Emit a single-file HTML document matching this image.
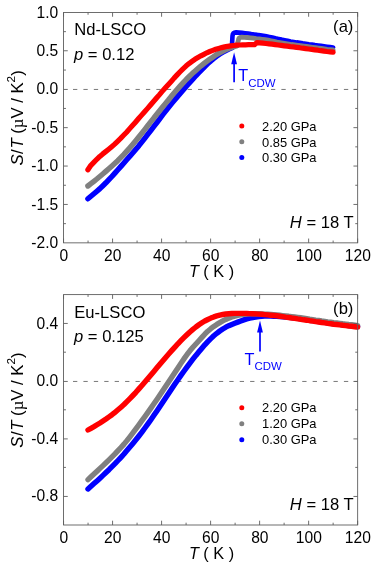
<!DOCTYPE html>
<html><head><meta charset="utf-8"><title>fig</title>
<style>html,body{margin:0;padding:0;background:#fff;}svg{display:block;}text{font-family:"Liberation Sans",sans-serif;fill:#000;}.i{font-style:italic;}.sy{font-family:"Liberation Serif",serif;}</style>
</head><body><div style="will-change:transform;width:374px;height:567px;">
<svg width="374" height="567" viewBox="0 0 374 567">
<line x1="73.00" y1="89.45" x2="357.65" y2="89.45" stroke="#606060" stroke-width="0.85" stroke-dasharray="4.3 6.12"/>
<g>
<path d="M87.9,198.8 L90.9,196.3 L93.9,193.8 L96.9,191.2 L99.9,188.6 L102.9,185.7 L105.9,182.8 L108.9,179.7 L111.9,176.5 L114.9,173.1 L117.9,169.8 L120.9,166.4 L123.9,162.9 L126.9,159.5 L129.9,156.1 L132.9,152.7 L135.9,149.2 L138.9,145.7 L141.9,141.9 L144.9,138.1 L147.9,134.2 L150.9,130.3 L153.9,126.4 L156.9,122.5 L159.9,118.6 L162.8,114.7 L165.8,110.9 L168.8,107.1 L171.8,103.4 L174.8,99.8 L177.8,96.2 L180.8,92.7 L183.8,89.2 L186.8,85.8 L189.8,82.4 L192.8,79.1 L195.8,75.8 L198.8,72.7 L201.8,69.6 L204.8,66.5 L207.8,63.6 L210.8,60.9 L213.8,58.4 L216.8,56.1 L219.8,54.0 L222.8,52.2 L225.8,50.6 L228.8,49.1 L231.8,47.8" fill="none" stroke="#0000ff" stroke-width="5.40" stroke-linecap="round" stroke-linejoin="round"/>
<path d="M231.80,47.80 L232.50,35.80 Q232.75,32.50 236.00,32.40 L236.0,32.4 L239.0,32.6 L242.1,32.9 L245.1,33.2 L248.1,33.6 L251.2,34.1 L254.2,34.5 L257.2,34.9 L260.3,35.2 L263.3,35.7 L266.4,36.3 L269.4,36.9 L272.4,37.6 L275.5,38.3 L278.5,38.9 L281.5,39.6 L284.6,40.2 L287.6,40.8 L290.6,41.4 L293.7,41.9 L296.7,42.4 L299.7,42.8 L302.8,43.3 L305.8,43.7 L308.9,44.2 L311.9,44.6 L314.9,45.1 L318.0,45.5 L321.0,45.9 L324.0,46.3 L327.1,46.7 L330.1,47.1 L333.1,47.5" fill="none" stroke="#0000ff" stroke-width="4.60" stroke-linecap="round" stroke-linejoin="round"/>
<path d="M87.9,186.0 L90.9,183.7 L93.9,181.3 L96.8,179.0 L99.8,176.5 L102.8,174.0 L105.8,171.4 L108.8,168.8 L111.7,166.2 L114.7,163.5 L117.7,160.7 L120.7,157.7 L123.7,154.6 L126.6,151.4 L129.6,148.0 L132.6,144.6 L135.6,141.0 L138.6,137.3 L141.5,133.6 L144.5,129.8 L147.5,126.0 L150.5,122.2 L153.5,118.5 L156.4,114.7 L159.4,111.0 L162.4,107.3 L165.4,103.6 L168.4,100.0 L171.3,96.3 L174.3,92.8 L177.3,89.3 L180.3,85.9 L183.3,82.6 L186.2,79.5 L189.2,76.5 L192.2,73.6 L195.2,70.9 L198.2,68.3 L201.1,65.8 L204.1,63.4 L207.1,61.1 L210.1,58.9 L213.1,56.9 L216.0,54.9 L219.0,53.2 L222.0,51.6 L225.0,50.1 L228.0,48.8 L230.9,47.7 L233.9,46.7 L236.9,45.7" fill="none" stroke="#808080" stroke-width="5.40" stroke-linecap="round" stroke-linejoin="round"/>
<path d="M236.90,45.70 L238.30,40.60 Q238.55,37.30 241.50,37.20 L241.5,37.2 L244.5,37.3 L247.4,37.5 L250.4,37.8 L253.3,38.2 L256.3,38.6 L259.2,38.9 L262.2,39.3 L265.1,39.7 L268.1,40.2 L271.1,40.8 L274.0,41.4 L277.0,42.0 L279.9,42.5 L282.9,43.0 L285.8,43.5 L288.8,44.0 L291.8,44.5 L294.7,44.9 L297.7,45.3 L300.6,45.7 L303.6,46.1 L306.5,46.5 L309.5,46.9 L312.4,47.3 L315.4,47.7 L318.4,48.1 L321.3,48.5 L324.3,48.9 L327.2,49.3 L330.2,49.6 L333.1,49.9" fill="none" stroke="#808080" stroke-width="4.80" stroke-linecap="round" stroke-linejoin="round"/>
<path d="M87.9,169.8 L90.9,165.3 L93.8,162.4 L96.8,159.3 L99.8,156.4 L102.8,153.9 L105.7,151.6 L108.7,149.2 L111.7,146.7 L114.7,144.1 L117.6,141.3 L120.6,138.4 L123.6,135.3 L126.6,132.2 L129.5,128.9 L132.5,125.6 L135.5,122.2 L138.4,118.8 L141.4,115.4 L144.4,112.0 L147.4,108.6 L150.3,105.2 L153.3,101.8 L156.3,98.3 L159.3,94.9 L162.2,91.4 L165.2,88.0 L168.2,84.7 L171.2,81.4 L174.1,78.1 L177.1,74.9 L180.1,71.8 L183.0,68.9 L186.0,66.1 L189.0,63.6 L192.0,61.4 L194.9,59.3 L197.9,57.5 L200.9,55.8 L203.9,54.3 L206.8,52.8 L209.8,51.5 L212.8,50.4 L215.7,49.3 L218.7,48.4 L221.7,47.6 L224.7,46.9 L227.6,46.3 L230.6,45.9 L233.6,45.5 L236.6,45.2 L239.5,45.0 L242.5,44.9 L245.5,44.8 L248.5,44.7 L251.4,44.7 L254.4,44.7 L256.8,42.7 L259.9,42.9 L262.9,43.2 L266.0,43.5 L269.0,43.8 L272.1,44.2 L275.1,44.6 L278.2,45.0 L281.2,45.4 L284.3,45.8 L287.3,46.2 L290.4,46.6 L293.4,46.9 L296.5,47.3 L299.6,47.7 L302.6,48.2 L305.7,48.6 L308.7,49.0 L311.8,49.4 L314.8,49.8 L317.9,50.2 L320.9,50.7 L324.0,51.1 L327.0,51.5 L330.1,51.8 L333.1,52.2" fill="none" stroke="#ff0000" stroke-width="5.20" stroke-linecap="round" stroke-linejoin="round"/>
</g>
<rect x="63.55" y="12.45" width="294.10" height="230.40" fill="none" stroke="#5e5e5e" stroke-width="0.90"/>
<path d="M63.55,242.85 v-4.30 M63.55,12.45 v4.30 M88.06,242.85 v-2.30 M88.06,12.45 v2.30 M112.57,242.85 v-4.30 M112.57,12.45 v4.30 M137.07,242.85 v-2.30 M137.07,12.45 v2.30 M161.58,242.85 v-4.30 M161.58,12.45 v4.30 M186.09,242.85 v-2.30 M186.09,12.45 v2.30 M210.60,242.85 v-4.30 M210.60,12.45 v4.30 M235.11,242.85 v-2.30 M235.11,12.45 v2.30 M259.62,242.85 v-4.30 M259.62,12.45 v4.30 M284.12,242.85 v-2.30 M284.12,12.45 v2.30 M308.63,242.85 v-4.30 M308.63,12.45 v4.30 M333.14,242.85 v-2.30 M333.14,12.45 v2.30 M357.65,242.85 v-4.30 M357.65,12.45 v4.30 M63.55,50.75 h4.20 M357.65,50.75 h-4.20 M63.55,89.45 h4.20 M357.65,89.45 h-4.20 M63.55,127.65 h4.20 M357.65,127.65 h-4.20 M63.55,166.05 h4.20 M357.65,166.05 h-4.20 M63.55,204.45 h4.20 M357.65,204.45 h-4.20 M63.55,31.65 h2.40 M357.65,31.65 h-2.40 M63.55,70.05 h2.40 M357.65,70.05 h-2.40 M63.55,108.45 h2.40 M357.65,108.45 h-2.40 M63.55,146.85 h2.40 M357.65,146.85 h-2.40 M63.55,185.25 h2.40 M357.65,185.25 h-2.40 M63.55,223.65 h2.40 M357.65,223.65 h-2.40" stroke="#5e5e5e" stroke-width="0.90" fill="none"/>
<text x="63.75" y="260.75" font-size="15.60" text-anchor="middle">0</text>
<text x="112.77" y="260.75" font-size="15.60" text-anchor="middle">20</text>
<text x="161.78" y="260.75" font-size="15.60" text-anchor="middle">40</text>
<text x="210.80" y="260.75" font-size="15.60" text-anchor="middle">60</text>
<text x="259.82" y="260.75" font-size="15.60" text-anchor="middle">80</text>
<text x="308.83" y="260.75" font-size="15.60" text-anchor="middle">100</text>
<text x="357.85" y="260.75" font-size="15.60" text-anchor="middle">120</text>
<text x="58.20" y="17.55" font-size="15.60" text-anchor="end">1.0</text>
<text x="58.20" y="55.95" font-size="15.60" text-anchor="end">0.5</text>
<text x="58.20" y="94.35" font-size="15.60" text-anchor="end">0.0</text>
<text x="58.20" y="132.75" font-size="15.60" text-anchor="end">-0.5</text>
<text x="58.20" y="171.15" font-size="15.60" text-anchor="end">-1.0</text>
<text x="58.20" y="209.55" font-size="15.60" text-anchor="end">-1.5</text>
<text x="58.20" y="247.95" font-size="15.60" text-anchor="end">-2.0</text>
<text x="211.50" y="277.25" font-size="16.30" text-anchor="middle"><tspan class="i">T</tspan> ( K )</text>
<text transform="translate(23.40,117.90) rotate(-90)" font-size="16.70" text-anchor="middle"><tspan class="i">S</tspan><tspan dx="0.4">/</tspan><tspan class="i" dx="0.7">T</tspan> (<tspan class="sy">µ</tspan>V / K<tspan dy="-8.6" font-size="11.80">2</tspan><tspan dy="8.6">)</tspan></text>
<text x="74.3" y="35.35" font-size="16.60">Nd-LSCO</text>
<text x="74.0" y="59.85" font-size="16.60"><tspan class="i">p</tspan> = 0.12</text>
<text x="353.4" y="31.75" font-size="16.60" text-anchor="end">(a)</text>
<text x="353.6" y="228.15" font-size="16.60" text-anchor="end"><tspan class="i">H</tspan> = 18 T</text>
<circle cx="241.8" cy="126.00" r="2.5" fill="#ff0000"/>
<text x="262.0" y="130.70" font-size="12.90">2.20 GPa</text>
<circle cx="241.8" cy="141.80" r="2.5" fill="#808080"/>
<text x="262.0" y="146.50" font-size="12.90">0.85 GPa</text>
<circle cx="241.8" cy="157.60" r="2.5" fill="#0000ff"/>
<text x="262.0" y="162.30" font-size="12.90">0.30 GPa</text>
<path d="M234.10,82.20 V58.20" stroke="#0000ff" stroke-width="1.7" fill="none"/>
<path d="M234.10,52.20 l2.9,12 h-5.8 z" fill="#0000ff"/>
<text x="238.30" y="80.70" font-size="16.30" style="fill:#0000ff">T<tspan dy="5.8" font-size="11.45">CDW</tspan></text>
<line x1="73.00" y1="381.45" x2="357.65" y2="381.45" stroke="#606060" stroke-width="0.85" stroke-dasharray="4.3 6.12"/>
<g>
<path d="M88.0,489.0 L91.0,486.3 L94.0,483.6 L97.0,480.9 L100.0,478.2 L103.0,475.4 L106.0,472.5 L109.0,469.7 L112.0,466.7 L115.0,463.7 L118.0,460.5 L121.0,457.3 L124.0,454.0 L126.9,450.6 L129.9,447.1 L132.9,443.5 L135.9,439.8 L138.9,436.0 L141.9,432.1 L144.9,428.0 L147.9,423.9 L150.9,419.7 L153.9,415.3 L156.9,410.9 L159.9,406.4 L162.9,401.9 L165.9,397.4 L168.9,392.9 L171.9,388.4 L174.9,384.0 L177.9,379.7 L180.9,375.4 L183.9,371.2 L186.9,367.1 L189.9,363.1 L192.9,359.2 L195.9,355.4 L198.9,351.8 L201.9,348.2 L204.8,344.8 L207.8,341.6 L210.8,338.6 L213.8,335.8 L216.8,333.3 L219.8,331.0 L222.8,329.0 L225.8,327.2 L228.8,325.7 L231.8,324.4 L234.8,323.2 L237.8,322.1 L240.8,321.0 L243.8,319.9 L246.8,318.9 L249.8,318.1 L252.8,317.5 L255.8,317.0 L258.8,316.6 L261.8,316.3 L264.8,316.1 L267.8,316.0 L270.8,316.1 L273.8,316.2 L276.8,316.4 L279.8,316.6 L282.7,316.8 L285.7,317.0 L288.7,317.3 L291.7,317.6 L294.7,318.0 L297.7,318.4 L300.7,318.8 L303.7,319.2 L306.7,319.7 L309.7,320.2 L312.7,320.6 L315.7,321.1 L318.7,321.5 L321.7,322.0 L324.7,322.4 L327.7,322.9 L330.7,323.3 L333.7,323.7 L336.7,324.0 L339.7,324.4 L342.7,324.8 L345.7,325.1 L348.7,325.5 L351.7,325.8 L354.7,326.2 L357.6,326.6" fill="none" stroke="#0000ff" stroke-width="5.40" stroke-linecap="round" stroke-linejoin="round"/>
<path d="M88.0,479.6 L91.0,476.8 L94.0,474.0 L97.0,471.2 L100.0,468.4 L103.0,465.6 L106.0,462.8 L109.0,459.9 L112.0,456.9 L115.0,453.9 L118.0,450.7 L121.0,447.5 L124.0,444.1 L126.9,440.6 L129.9,436.8 L132.9,432.9 L135.9,428.9 L138.9,424.8 L141.9,420.7 L144.9,416.6 L147.9,412.4 L150.9,408.1 L153.9,403.8 L156.9,399.4 L159.9,395.0 L162.9,390.5 L165.9,386.0 L168.9,381.6 L171.9,377.1 L174.9,372.5 L177.9,368.0 L180.9,363.4 L183.9,358.9 L186.9,354.7 L189.9,350.8 L192.9,347.3 L195.9,344.0 L198.9,340.7 L201.9,337.4 L204.8,334.2 L207.8,331.2 L210.8,328.7 L213.8,326.4 L216.8,324.4 L219.8,322.6 L222.8,320.9 L225.8,319.4 L228.8,318.1 L231.8,317.0 L234.8,316.1 L237.8,315.4 L240.8,314.9 L243.8,314.4 L246.8,314.1 L249.8,313.9 L252.8,313.7 L255.8,313.7 L258.8,313.7 L261.8,313.9 L264.8,314.1 L267.8,314.3 L270.8,314.5 L273.8,314.7 L276.8,315.0 L279.8,315.3 L282.7,315.6 L285.7,315.9 L288.7,316.3 L291.7,316.6 L294.7,317.0 L297.7,317.4 L300.7,317.8 L303.7,318.2 L306.7,318.7 L309.7,319.2 L312.7,319.6 L315.7,320.1 L318.7,320.5 L321.7,321.0 L324.7,321.4 L327.7,321.9 L330.7,322.3 L333.7,322.7 L336.7,323.0 L339.7,323.4 L342.7,323.8 L345.7,324.1 L348.7,324.5 L351.7,324.8 L354.7,325.2 L357.6,325.6" fill="none" stroke="#808080" stroke-width="5.40" stroke-linecap="round" stroke-linejoin="round"/>
<path d="M88.0,430.0 L91.0,428.3 L94.0,426.6 L97.0,424.8 L100.0,423.0 L103.0,421.0 L106.0,419.0 L109.0,416.9 L112.0,414.7 L115.0,412.3 L118.0,409.8 L121.0,407.2 L124.0,404.5 L126.9,401.6 L129.9,398.6 L132.9,395.5 L135.9,392.3 L138.9,388.9 L141.9,385.5 L144.9,382.0 L147.9,378.5 L150.9,374.9 L153.9,371.4 L156.9,367.8 L159.9,364.2 L162.9,360.7 L165.9,357.2 L168.9,353.8 L171.9,350.4 L174.9,347.1 L177.9,343.8 L180.9,340.7 L183.9,337.7 L186.9,334.8 L189.9,332.0 L192.9,329.4 L195.9,327.0 L198.9,324.8 L201.9,322.8 L204.8,321.0 L207.8,319.5 L210.8,318.1 L213.8,316.9 L216.8,315.9 L219.8,315.1 L222.8,314.5 L225.8,314.0 L228.8,313.7 L231.8,313.5 L234.8,313.4 L237.8,313.4 L240.8,313.4 L243.8,313.4 L246.8,313.5 L249.8,313.6 L252.8,313.7 L255.8,313.9 L258.8,314.1 L261.8,314.3 L264.8,314.6 L267.8,314.9 L270.8,315.2 L273.8,315.5 L276.8,315.8 L279.8,316.2 L282.7,316.6 L285.7,317.1 L288.7,317.5 L291.7,318.0 L294.7,318.4 L297.7,318.9 L300.7,319.3 L303.7,319.8 L306.7,320.2 L309.7,320.7 L312.7,321.1 L315.7,321.6 L318.7,322.0 L321.7,322.5 L324.7,322.9 L327.7,323.4 L330.7,323.8 L333.7,324.2 L336.7,324.5 L339.7,324.9 L342.7,325.3 L345.7,325.6 L348.7,326.0 L351.7,326.3 L354.7,326.7 L357.6,327.1" fill="none" stroke="#ff0000" stroke-width="5.40" stroke-linecap="round" stroke-linejoin="round"/>
</g>
<rect x="63.55" y="294.60" width="294.10" height="230.40" fill="none" stroke="#5e5e5e" stroke-width="0.90"/>
<path d="M63.55,525.00 v-4.30 M63.55,294.60 v4.30 M88.06,525.00 v-2.30 M88.06,294.60 v2.30 M112.57,525.00 v-4.30 M112.57,294.60 v4.30 M137.07,525.00 v-2.30 M137.07,294.60 v2.30 M161.58,525.00 v-4.30 M161.58,294.60 v4.30 M186.09,525.00 v-2.30 M186.09,294.60 v2.30 M210.60,525.00 v-4.30 M210.60,294.60 v4.30 M235.11,525.00 v-2.30 M235.11,294.60 v2.30 M259.62,525.00 v-4.30 M259.62,294.60 v4.30 M284.12,525.00 v-2.30 M284.12,294.60 v2.30 M308.63,525.00 v-4.30 M308.63,294.60 v4.30 M333.14,525.00 v-2.30 M333.14,294.60 v2.30 M357.65,525.00 v-4.30 M357.65,294.60 v4.30 M63.55,323.45 h4.20 M357.65,323.45 h-4.20 M63.55,381.45 h4.20 M357.65,381.45 h-4.20 M63.55,438.90 h4.20 M357.65,438.90 h-4.20 M63.55,496.45 h4.20 M357.65,496.45 h-4.20 M63.55,352.20 h2.40 M357.65,352.20 h-2.40 M63.55,409.80 h2.40 M357.65,409.80 h-2.40 M63.55,467.40 h2.40 M357.65,467.40 h-2.40" stroke="#5e5e5e" stroke-width="0.90" fill="none"/>
<text x="63.75" y="542.90" font-size="15.60" text-anchor="middle">0</text>
<text x="112.77" y="542.90" font-size="15.60" text-anchor="middle">20</text>
<text x="161.78" y="542.90" font-size="15.60" text-anchor="middle">40</text>
<text x="210.80" y="542.90" font-size="15.60" text-anchor="middle">60</text>
<text x="259.82" y="542.90" font-size="15.60" text-anchor="middle">80</text>
<text x="308.83" y="542.90" font-size="15.60" text-anchor="middle">100</text>
<text x="357.85" y="542.90" font-size="15.60" text-anchor="middle">120</text>
<text x="58.20" y="328.50" font-size="15.60" text-anchor="end">0.4</text>
<text x="58.20" y="386.10" font-size="15.60" text-anchor="end">0.0</text>
<text x="58.20" y="443.70" font-size="15.60" text-anchor="end">-0.4</text>
<text x="58.20" y="501.30" font-size="15.60" text-anchor="end">-0.8</text>
<text x="211.50" y="559.40" font-size="16.30" text-anchor="middle"><tspan class="i">T</tspan> ( K )</text>
<text transform="translate(23.40,400.05) rotate(-90)" font-size="16.70" text-anchor="middle"><tspan class="i">S</tspan><tspan dx="0.4">/</tspan><tspan class="i" dx="0.7">T</tspan> (<tspan class="sy">µ</tspan>V / K<tspan dy="-8.6" font-size="11.80">2</tspan><tspan dy="8.6">)</tspan></text>
<text x="74.3" y="317.50" font-size="16.60">Eu-LSCO</text>
<text x="74.0" y="342.00" font-size="16.60"><tspan class="i">p</tspan> = 0.125</text>
<text x="353.4" y="313.90" font-size="16.60" text-anchor="end">(b)</text>
<text x="353.6" y="510.30" font-size="16.60" text-anchor="end"><tspan class="i">H</tspan> = 18 T</text>
<circle cx="241.8" cy="407.70" r="2.5" fill="#ff0000"/>
<text x="262.0" y="412.40" font-size="12.90">2.20 GPa</text>
<circle cx="241.8" cy="423.70" r="2.5" fill="#808080"/>
<text x="262.0" y="428.40" font-size="12.90">1.20 GPa</text>
<circle cx="241.8" cy="439.70" r="2.5" fill="#0000ff"/>
<text x="262.0" y="444.40" font-size="12.90">0.30 GPa</text>
<path d="M260.00,351.60 V326.40" stroke="#0000ff" stroke-width="1.7" fill="none"/>
<path d="M260.00,320.40 l2.9,12 h-5.8 z" fill="#0000ff"/>
<text x="244.60" y="364.60" font-size="16.30" style="fill:#0000ff">T<tspan dy="5.8" font-size="11.45">CDW</tspan></text>
</svg></div></body></html>
